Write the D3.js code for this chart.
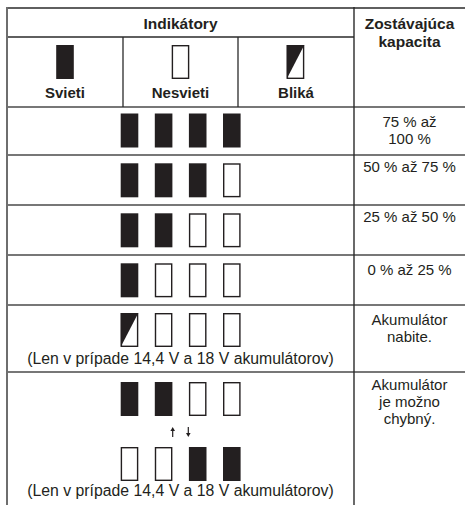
<!DOCTYPE html>
<html><head><meta charset="utf-8">
<script src="https://cdn.jsdelivr.net/npm/d3@7"></script>
<style>body{margin:0;background:#fff}svg{display:block}text{font-family:Arial,"Liberation Sans",Helvetica,sans-serif;fill:#231f20}</style>
</head><body><div id="c"></div>
<script>
// ---- data ----
const headerTitle = "Indikátory";
const capacityTitle = ["Zostávajúca", "kapacita"];
const legendLabels = ["Svieti", "Nesvieti", "Bliká"];
const legendStates = ["on", "off", "blink"];
const indicatorIndex = [0, 1, 2, 3];
const rowPatterns = [
  [["on","on","on","on"]],
  [["on","on","on","off"]],
  [["on","on","off","off"]],
  [["on","off","off","off"]],
  [["blink","off","off","off"]],
  [["on","on","off","off"], ["off","off","on","on"]]
];
const capacityLabels = [
  ["75 % až", "100 %"],
  ["50 % až 75 %"],
  ["25 % až 50 %"],
  ["0 % až 25 %"],
  ["Akumulátor", "nabite."],
  ["Akumulátor", "je možno", "chybný."]
];
const rowNotes = [null, null, null, null,
  "(Len v prípade 14,4 V a 18 V akumulátorov)",
  "(Len v prípade 14,4 V a 18 V akumulátorov)"];
const alternateArrows = ["↑", "↓"];

// ---- layout ----
const W = 465, H = 505;
const svg = d3.select("#c").append("svg").attr("width", W).attr("height", H);
const left = 7, split = 354, right = 465;
const colX = [7, 123, 238, 354];
const rowEdges = [107, 155, 205, 255, 305, 372, 505];
const boxW = 17.6, boxH = 34;
const ink = "#231f20";

const x = d3.scaleLinear().domain([0, 3]).range([129.5, 231.8]);

function drawBox(g, cx, top, state) {
  const x0 = cx - boxW / 2;
  if (state === "on") {
    g.append("rect").attr("x", x0).attr("y", top).attr("width", boxW).attr("height", boxH).attr("fill", ink);
  } else {
    g.append("rect").attr("x", x0 + 0.7).attr("y", top + 0.7).attr("width", boxW - 1.4).attr("height", boxH - 1.4)
      .attr("fill", "#fff").attr("stroke", ink).attr("stroke-width", 1.4);
    if (state === "blink") {
      g.append("path").attr("d", `M${x0},${top}L${x0 + boxW},${top}L${x0},${top + boxH}Z`).attr("fill", ink);
    }
  }
}

// lines
const lines = svg.append("g");
lines.append("line").attr("x1", left).attr("x2", right).attr("y1", 8).attr("y2", 8).attr("stroke", "#2a2a2a").attr("stroke-width", 1.6);
lines.append("line").attr("x1", left).attr("x2", split).attr("y1", 37).attr("y2", 37).attr("stroke", "#2a2a2a").attr("stroke-width", 1.4);
rowEdges.slice(0, -1).forEach(y => {
  lines.append("line").attr("x1", left).attr("x2", right).attr("y1", y).attr("y2", y).attr("stroke", "#4a4a4a").attr("stroke-width", 1.5);
});
lines.append("line").attr("x1", left).attr("x2", left).attr("y1", 7).attr("y2", H).attr("stroke", "#6e6e6e").attr("stroke-width", 2);
lines.append("line").attr("x1", split).attr("x2", split).attr("y1", 7).attr("y2", H).attr("stroke", "#2a2a2a").attr("stroke-width", 1.4);
[colX[1], colX[2]].forEach(cx => {
  lines.append("line").attr("x1", cx).attr("x2", cx).attr("y1", 37).attr("y2", 107).attr("stroke", "#2a2a2a").attr("stroke-width", 1.3);
});

// header text
const bold = 15.5;
svg.append("text").attr("x", (left + split) / 2).attr("y", 29).attr("text-anchor", "middle")
  .attr("font-weight", "bold").attr("font-size", bold).text(headerTitle);
capacityTitle.forEach((t, i) => {
  svg.append("text").attr("x", (split + right) / 2).attr("y", 29 + i * 18).attr("text-anchor", "middle")
    .attr("font-weight", "bold").attr("font-size", bold).text(t);
});
legendLabels.forEach((t, i) => {
  const cx = (colX[i] + colX[i + 1]) / 2;
  const g = svg.append("g");
  drawBox(g, cx + (i === 2 ? -0.5 : 0), 45, legendStates[i]);
  svg.append("text").attr("x", cx).attr("y", 98).attr("text-anchor", "middle")
    .attr("font-weight", "bold").attr("font-size", 15).text(t);
});

// rows
const boxTopOffset = [6.5, 8.3, 8.3, 8.3, 8, 10];
const labelOffset = [20, 17, 17, 20, 20, 18];
rowPatterns.forEach((sets, r) => {
  const top = rowEdges[r];
  const g = svg.append("g");
  sets.forEach((pattern, s) => {
    const bt = top + boxTopOffset[r] + s * 65;
    indicatorIndex.forEach(i => drawBox(g, x(i), bt, pattern[i]));
  });
  if (sets.length > 1) {
    // alternation arrows
    const ax = [172.7, 188.3];
    ax.forEach((axx, k) => {
      const up = k === 0;
      const y1 = 427, y2 = 437;
      g.append("line").attr("x1", axx).attr("x2", axx).attr("y1", up ? y1 + 2 : y1).attr("y2", up ? y2 : y2 - 2)
        .attr("stroke", ink).attr("stroke-width", 1.2).attr("data-label", alternateArrows[k]);
      const ty = up ? y1 : y2;
      const d = up ? 1 : -1;
      g.append("path").attr("d", `M${axx - 2.3},${ty + d * 4}L${axx},${ty}L${axx + 2.3},${ty + d * 4}Z`).attr("fill", ink);
    });
  }
  if (rowNotes[r]) {
    svg.append("text").attr("x", (left + split) / 2).attr("y", rowEdges[r + 1] - (r === 5 ? 9 : 8))
      .attr("text-anchor", "middle").attr("font-size", 15.8).text(rowNotes[r]);
  }
  capacityLabels[r].forEach((t, k) => {
    svg.append("text").attr("x", (split + right) / 2).attr("y", top + labelOffset[r] + k * 17)
      .attr("text-anchor", "middle").attr("font-size", 15).text(t);
  });
});
</script></body></html>
